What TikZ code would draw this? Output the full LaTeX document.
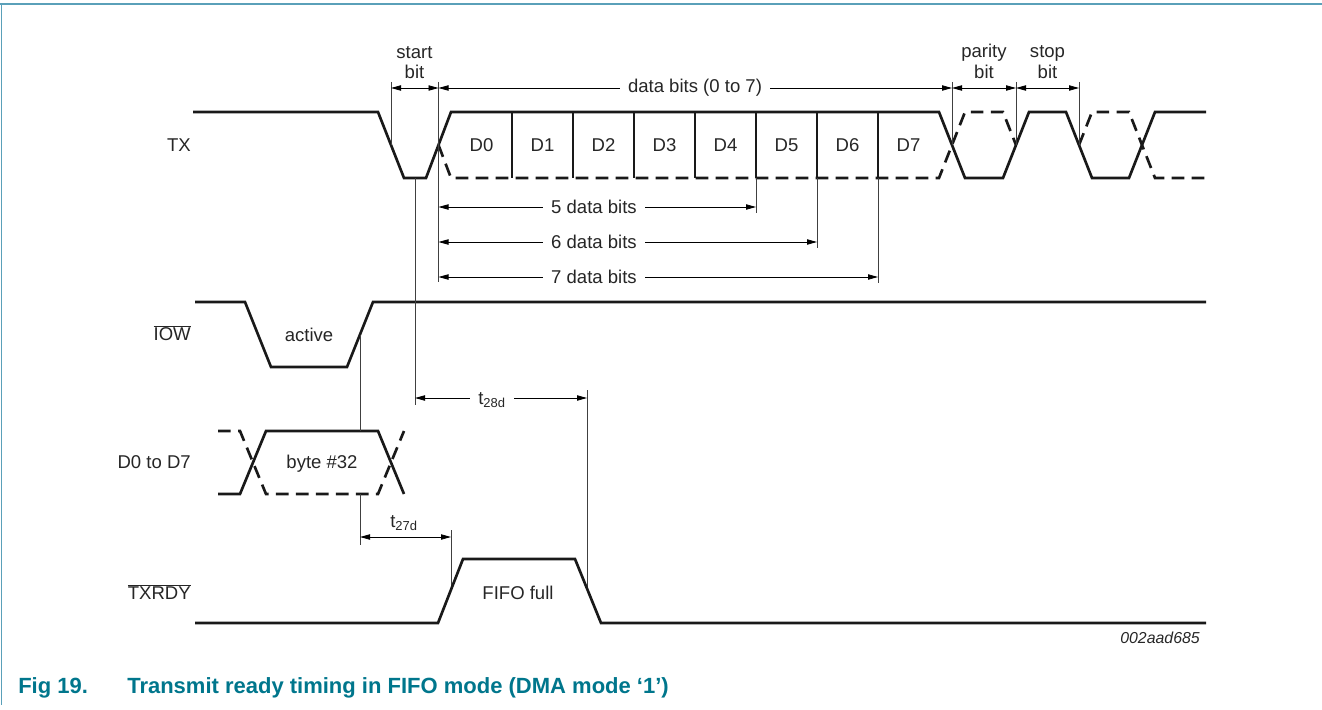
\documentclass[tikz,border=0pt]{standalone}
\usepackage{fontspec}
\setmainfont{Liberation Sans}
\usetikzlibrary{arrows.meta}
\definecolor{framec}{RGB}{90,160,185}
\definecolor{captc}{RGB}{0,118,140}
\newcommand\ovl[1]{$\overline{\hbox{#1}}$}
\begin{document}
\begin{tikzpicture}[x=0.75pt,y=-0.75pt,
  sig/.style={line width=2pt,line join=miter,black!90},
  dsh/.style={sig,dash pattern=on 9.5pt off 5.5pt},
  ext/.style={line width=0.6pt,black!75},
  dim/.style={line width=0.6pt,black,{Triangle[length=7.5pt,width=4pt]}-{Triangle[length=7.5pt,width=4pt]}},
  lbl/.style={font=\fontsize{13.9}{16}\selectfont,inner sep=0pt,text=black!85},
  gap/.style={lbl,fill=white,inner xsep=6pt,inner ysep=2pt},
  sigl/.style={lbl,anchor=east},
  capf/.style={anchor=west,inner sep=0pt,text=captc,font=\fontsize{16.5}{19}\selectfont\bfseries}]
\useasboundingbox (0,0) rectangle (1322,710);
% frame
\draw[framec,line width=1.2pt] (0,4) -- (1322,4);
\draw[framec,line width=1.2pt] (1.5,4) -- (1.5,705);

% ---------- signal labels
\node[sigl] (lTX) at (191,145) {TX};
\node[sigl] (lIOW) at (191,333) {\ovl{IOW}};
\node[sigl] (lD) at (191,462) {D0 to D7};
\node[sigl] (lTR) at (191,592) {\ovl{TXRDY}};

% ---------- TX
\draw[sig] (193,112) -- (378,112) -- (404,178) -- (426,178) -- (451,112) -- (939,112)
  -- (965,178) -- (1003,178) -- (1029,112) -- (1066,112) -- (1092,178) -- (1129,178)
  -- (1155,112) -- (1206,112);
\draw[dsh] (438.5,145) -- (451,178) -- (939,178) -- (965,112) -- (1003,112) -- (1016,145);
\draw[dsh] (1079,145) -- (1092,112) -- (1129,112) -- (1155,178) -- (1206,178);
\foreach \x in {512,573,634,695,756,817,878}{
  \draw[sig] (\x,112) -- (\x,178);
}
\foreach \n [count=\i from 0] in {D0,D1,D2,D3,D4,D5,D6,D7}{
  \node[lbl] (d\i) at ({481.5+61*\i},145) {\n};
}

% extension lines TX
\coordinate (sA) at (391,82);   \coordinate (sA2) at (391,145);
\coordinate (sB) at (438.5,82); \coordinate (sB2) at (438.5,282);
\coordinate (pA) at (952,82);   \coordinate (pA2) at (952,145);
\coordinate (pB) at (1016,82);  \coordinate (pB2) at (1016,145);
\coordinate (pC) at (1079,82);  \coordinate (pC2) at (1079,145);
\draw[ext] (sA) -- (sA2);
\draw[ext] (sB) -- (sB2);
\draw[ext] (pA) -- (pA2);
\draw[ext] (pB) -- (pB2);
\draw[ext] (pC) -- (pC2);
\coordinate (e5) at (756,178); \coordinate (e5b) at (756,213);
\coordinate (e6) at (817,178); \coordinate (e6b) at (817,248);
\coordinate (e7) at (878,178); \coordinate (e7b) at (878,283);
\draw[ext] (e5) -- (e5b);
\draw[ext] (e6) -- (e6b);
\draw[ext] (e7) -- (e7b);

% top dimension arrows
\draw[dim] (391,88) -- (438.5,88);
\draw[dim] (438.5,88) -- (952,88);
\draw[dim] (952,88) -- (1016,88);
\draw[dim] (1016,88) -- (1079,88);
\node[gap] (tdb) at (695,88) {data bits (0 to 7)};
\node[lbl] (tst1) at (414.5,53) {start};
\node[lbl] (tst2) at (414.5,72) {bit};
\node[lbl] (tpa1) at (984,53) {parity};
\node[lbl] (tpa2) at (984,72) {bit};
\node[lbl] (tsp1) at (1047.5,53) {stop};
\node[lbl] (tsp2) at (1047.5,72) {bit};

% data bits arrows
\draw[dim] (438.5,207) -- (756,207);
\draw[dim] (438.5,242) -- (817,242);
\draw[dim] (438.5,277) -- (878,277);
\node[gap] (t5) at (594,207) {5 data bits};
\node[gap] (t6) at (594,242) {6 data bits};
\node[gap] (t7) at (594,277) {7 data bits};

% ---------- IOW
\draw[sig] (195,302) -- (245,302) -- (271,367) -- (347,367) -- (373,302) -- (1206,302);
\node[lbl] (tact) at (309,335) {active};

% t28d
\coordinate (c415a) at (415,178); \coordinate (c415b) at (415,405);
\draw[ext] (c415a) -- (c415b);
\coordinate (c587a) at (587,390); \coordinate (c587b) at (587,588.5);
\draw[ext] (c587a) -- (c587b);
\draw[dim] (415,398) -- (587,398);
\node[gap] (t28) at (492,400) {t\textsubscript{28d}};

% ---------- D0 to D7 bus
\draw[sig] (218,494) -- (240,494) -- (266,431) -- (378,431) -- (404,494);
\draw[dsh] (218,431) -- (240,431) -- (266,494) -- (378,494) -- (404,431);
\node[lbl] (tbyte) at (322,464) {byte \#32};
\coordinate (c360a) at (360,334.5); \coordinate (c360b) at (360,431);
\coordinate (c360c) at (360,494); \coordinate (c360d) at (360,545);
\draw[ext] (c360a) -- (c360b);
\draw[ext] (c360c) -- (c360d);

% t27d
\coordinate (c451a) at (451,530); \coordinate (c451b) at (451,590);
\draw[ext] (c451a) -- (c451b);
\draw[dim] (360,537) -- (451,537);
\node[lbl] (t27) at (404,523) {t\textsubscript{27d}};

% ---------- TXRDY
\draw[sig] (195,623) -- (438,623) -- (463,559) -- (575,559) -- (601,623) -- (1206,623);
\node[lbl] (tfifo) at (518,593) {FIFO full};

\node[lbl,anchor=east,font=\fontsize{11.9}{14}\selectfont\itshape] (code) at (1200,638) {002aad685};

% caption
\node[capf] (fig) at (18,688) {Fig 19.};
\node[capf] (cap) at (127,688) {Transmit ready timing in FIFO mode (DMA mode ‘1’)};
\end{tikzpicture}
\end{document}
